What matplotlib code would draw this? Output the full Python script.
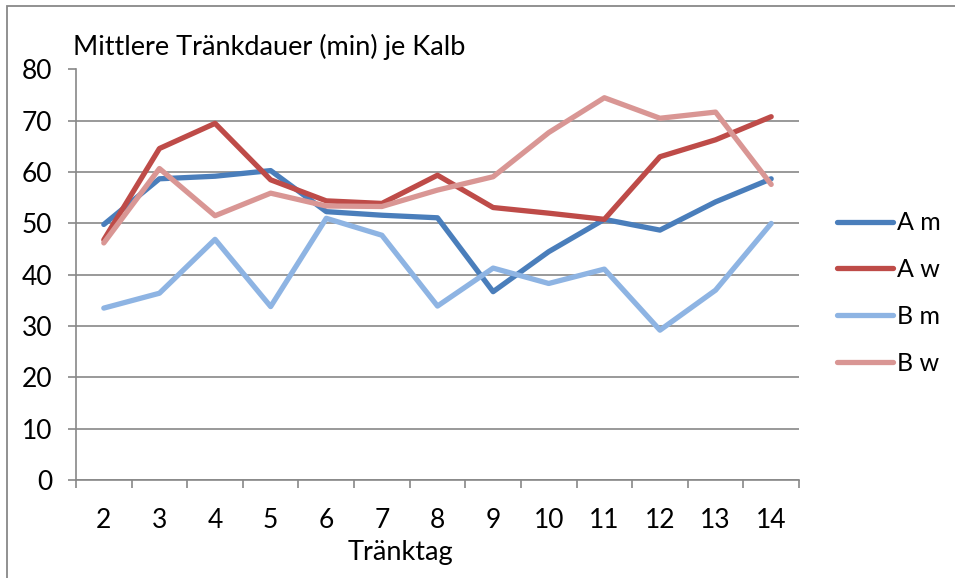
import numpy as np
import matplotlib
matplotlib.use('Agg')
import matplotlib.pyplot as plt
from matplotlib.patches import Rectangle

# --- data ---
days = [2, 3, 4, 5, 6, 7, 8, 9, 10, 11, 12, 13, 14]
a_m = [49.8, 58.7, 59.2, 60.3, 52.3, 51.6, 51.1, 36.7, 44.5, 50.8, 48.7, 54.2, 58.7]
a_w = [46.8, 64.6, 69.5, 58.5, 54.4, 53.9, 59.4, 53.1, 52.0, 50.8, 63.0, 66.3, 70.8]
b_m = [33.5, 36.4, 46.9, 33.8, 51.0, 47.7, 33.9, 41.3, 38.3, 41.1, 29.2, 37.0, 50.0]
b_w = [46.2, 60.7, 51.5, 55.9, 53.4, 53.3, 56.5, 59.1, 67.7, 74.5, 70.5, 71.7, 57.6]

series = [('A m', a_m, '#4A7EBB'),
          ('A w', a_w, '#BE4B48'),
          ('B m', b_m, '#8EB4E3'),
          ('B w', b_w, '#D99694')]

plt.rcParams['font.family'] = ['Lato', 'DejaVu Sans']

W, H = 955, 578
fig = plt.figure(figsize=(W / 100, H / 100), dpi=100)
ax = fig.add_axes([76 / W, 1 - 480 / H, (799 - 76) / W, (480 - 69.5) / H])

x = np.arange(len(days))
for label, vals, col in series:
    ax.plot(x, vals, color=col, lw=3.8, label=label, solid_capstyle='round',
            solid_joinstyle='round')

# --- axes styling ---
grid_col = '#888888'
ax.set_ylim(0, 80)
ax.set_yticks(np.arange(0, 81, 10))
ax.set_xlim(-0.5, len(days) - 0.5)
ax.set_xticks(x)
ax.set_xticklabels([str(d) for d in days])
ax.set_xticks(np.arange(-0.5, len(days), 1), minor=True)
ax.yaxis.grid(True, color=grid_col, lw=1.2)
ax.set_axisbelow(True)
for s in ['top', 'right']:
    ax.spines[s].set_visible(False)
for s in ['left', 'bottom']:
    ax.spines[s].set_color(grid_col)
    ax.spines[s].set_linewidth(1.2)
ax.tick_params(axis='y', length=6, width=1.2, color=grid_col, pad=11, labelsize=19)
ax.tick_params(axis='x', which='major', length=0, pad=20, labelsize=19)
ax.tick_params(axis='x', which='minor', length=6, width=1.2, color=grid_col)

fig.text(73 / W, 1 - 55 / H, 'Mittlere Tränkdauer (min) je Kalb', fontsize=19.5,
         ha='left', va='baseline')
fig.text(400 / W, 1 - 560 / H, 'Tränktag', fontsize=19.5, ha='center', va='baseline')

ax.legend(loc='center left', bbox_to_anchor=(837 / W, 1 - 293 / H),
          bbox_transform=fig.transFigure, frameon=False, fontsize=18,
          handlelength=2.25, handletextpad=0.15, labelspacing=0.95,
          borderaxespad=0, borderpad=0)

# chart area border (cropped at right and bottom)
fig.patches.append(Rectangle((7 / W, -0.1), 1.2, 1.1 - 6 / H, transform=fig.transFigure,
                             fill=False, edgecolor=grid_col, lw=1.3))

fig.savefig('out.png', dpi=100)
